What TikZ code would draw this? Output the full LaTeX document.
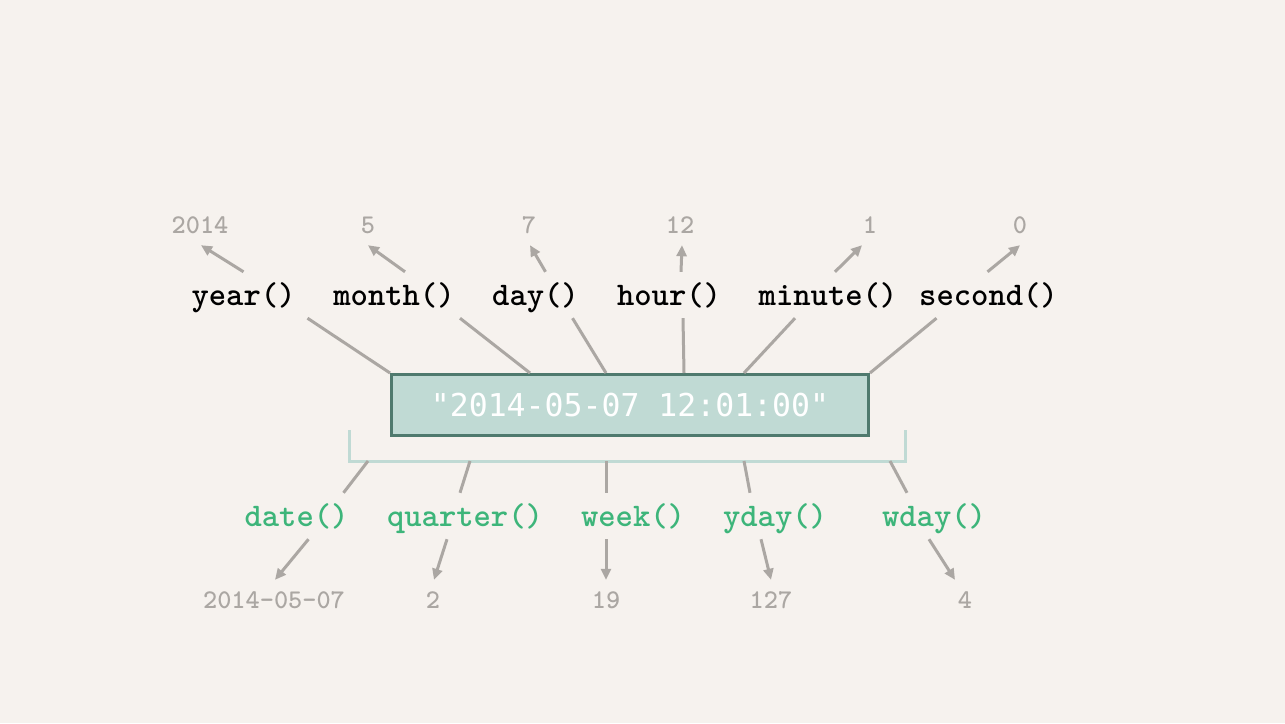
\documentclass[tikz,border=0pt]{standalone}
\usepackage{fontspec}
\usepackage{tikz}
\newfontfamily\strfont{DejaVu Sans Mono}
\usetikzlibrary{arrows.meta}
\usetikzlibrary{positioning}
\definecolor{paper}{HTML}{F6F2EE}
\definecolor{strfill}{HTML}{C0DAD4}
\definecolor{strline}{HTML}{4F7A6E}
\definecolor{lead}{HTML}{ABA7A3}
\definecolor{fngreen}{HTML}{3DB57A}

\begin{document}
\begin{tikzpicture}[x=1pt, y=-1pt,
    fn/.style={font=\ttfamily\bfseries\fontsize{33}{36}\selectfont, inner xsep=12pt, inner ysep=0pt,
      text height=26pt, text depth=6pt, minimum height=46pt},
    getfn/.style={fn, text=black},
    setfn/.style={fn, text=fngreen},
    val/.style={font=\ttfamily\bfseries\fontsize{27}{30}\selectfont, text=lead, inner sep=0pt, minimum height=40pt},
    strbox/.style={draw=strline, fill=strfill, line width=3pt, minimum width=477pt, minimum height=61pt,
      text=white, font=\strfont\fontsize{31.5}{34}\selectfont},
    link/.style={draw=lead, line width=3pt},
    res/.style={link, -{Triangle[length=11pt,width=10pt]}},
    bracket/.style={draw=strfill, line width=3pt}]
    \fill[paper] (0,0) rectangle (1285,723);
    \useasboundingbox (0,0) rectangle (1285,723);

    \node[strbox] (str) at (630,405) {"2014-05-07 12:01:00"};

    \node[getfn] (year) at (243.5,295) {year()};
    \node[getfn] (month) at (394,295) {month()};
    \node[getfn] (day) at (535.5,295) {day()};
    \node[getfn] (hour) at (669,295) {hour()};
    \node[getfn] (minute) at (828,295) {minute()};
    \node[getfn] (second) at (988.5,295) {second()};

    \node[val] (vyear) at (200,225) {2014};
    \node[val] (vmonth) at (368,225) {5};
    \node[val] (vday) at (529,225) {7};
    \node[val] (vhour) at (680,225) {12};
    \node[val] (vminute) at (870,225) {1};
    \node[val] (vsecond) at (1020,225) {0};

    \draw[res] (year.north) -- ([xshift=1pt]vyear.south);
    \draw[res] ([xshift=11pt]month.north) -- (vmonth.south);
    \draw[res] ([xshift=10pt]day.north) -- ([xshift=1pt]vday.south);
    \draw[res] ([xshift=12pt]hour.north) -- ([xshift=2pt]vhour.south);
    \draw[res] ([xshift=7pt]minute.north) -- ([xshift=-8pt]vminute.south);
    \draw[res] ([xshift=-1pt]second.north) -- (vsecond.south);

    \draw[link] ([xshift=64pt]year.south) -- (str.north west);
    \draw[link] ([xshift=66pt]month.south) -- ([xshift=-100pt]str.north);
    \draw[link] ([xshift=37pt]day.south) -- ([xshift=-24pt]str.north);
    \draw[link] ([xshift=14pt]hour.south) -- ([xshift=54pt]str.north);
    \draw[link] ([xshift=-33pt]minute.south) -- ([xshift=114pt]str.north);
    \draw[link] ([xshift=-52pt]second.south) -- (str.north east);

    \coordinate (brl) at (349,430);
    \coordinate (brr) at (905,430);
    \coordinate (brm) at (627,461);
    \draw[bracket] (brl) |- (brm) -| (brr);

    \node[setfn] (date) at (296.5,516) {date()};
    \node[setfn] (quarter) at (465,516) {quarter()};
    \node[setfn] (week) at (633,516) {week()};
    \node[setfn] (yday) at (775,516) {yday()};
    \node[setfn] (wday) at (934,516) {wday()};

    \node[val] (vdate) at (274,600) {2014-05-07};
    \node[val] (vquarter) at (433,600) {2};
    \node[val] (vweek) at (606,600) {19};
    \node[val] (vyday) at (771,600) {127};
    \node[val] (vwday) at (965,600) {4};

    \draw[link] ([xshift=-259pt]brm) -- ([xshift=47pt]date.north);
    \draw[link] ([xshift=-157pt]brm) -- ([xshift=-5pt]quarter.north);
    \draw[link] ([xshift=-21pt]brm) -- ([xshift=-27pt]week.north);
    \draw[link] ([xshift=117pt]brm) -- ([xshift=-25pt]yday.north);
    \draw[link] ([xshift=263pt]brm) -- ([xshift=-27pt]wday.north);

    \draw[res] ([xshift=12pt]date.south) -- ([xshift=1pt]vdate.north);
    \draw[res] ([xshift=-18pt]quarter.south) -- ([xshift=1pt]vquarter.north);
    \draw[res] ([xshift=-27pt]week.south) -- (vweek.north);
    \draw[res] ([xshift=-14pt]yday.south) -- (vyday.north);
    \draw[res] ([xshift=-5pt]wday.south) -- ([xshift=-10pt]vwday.north);
\end{tikzpicture}
\end{document}
